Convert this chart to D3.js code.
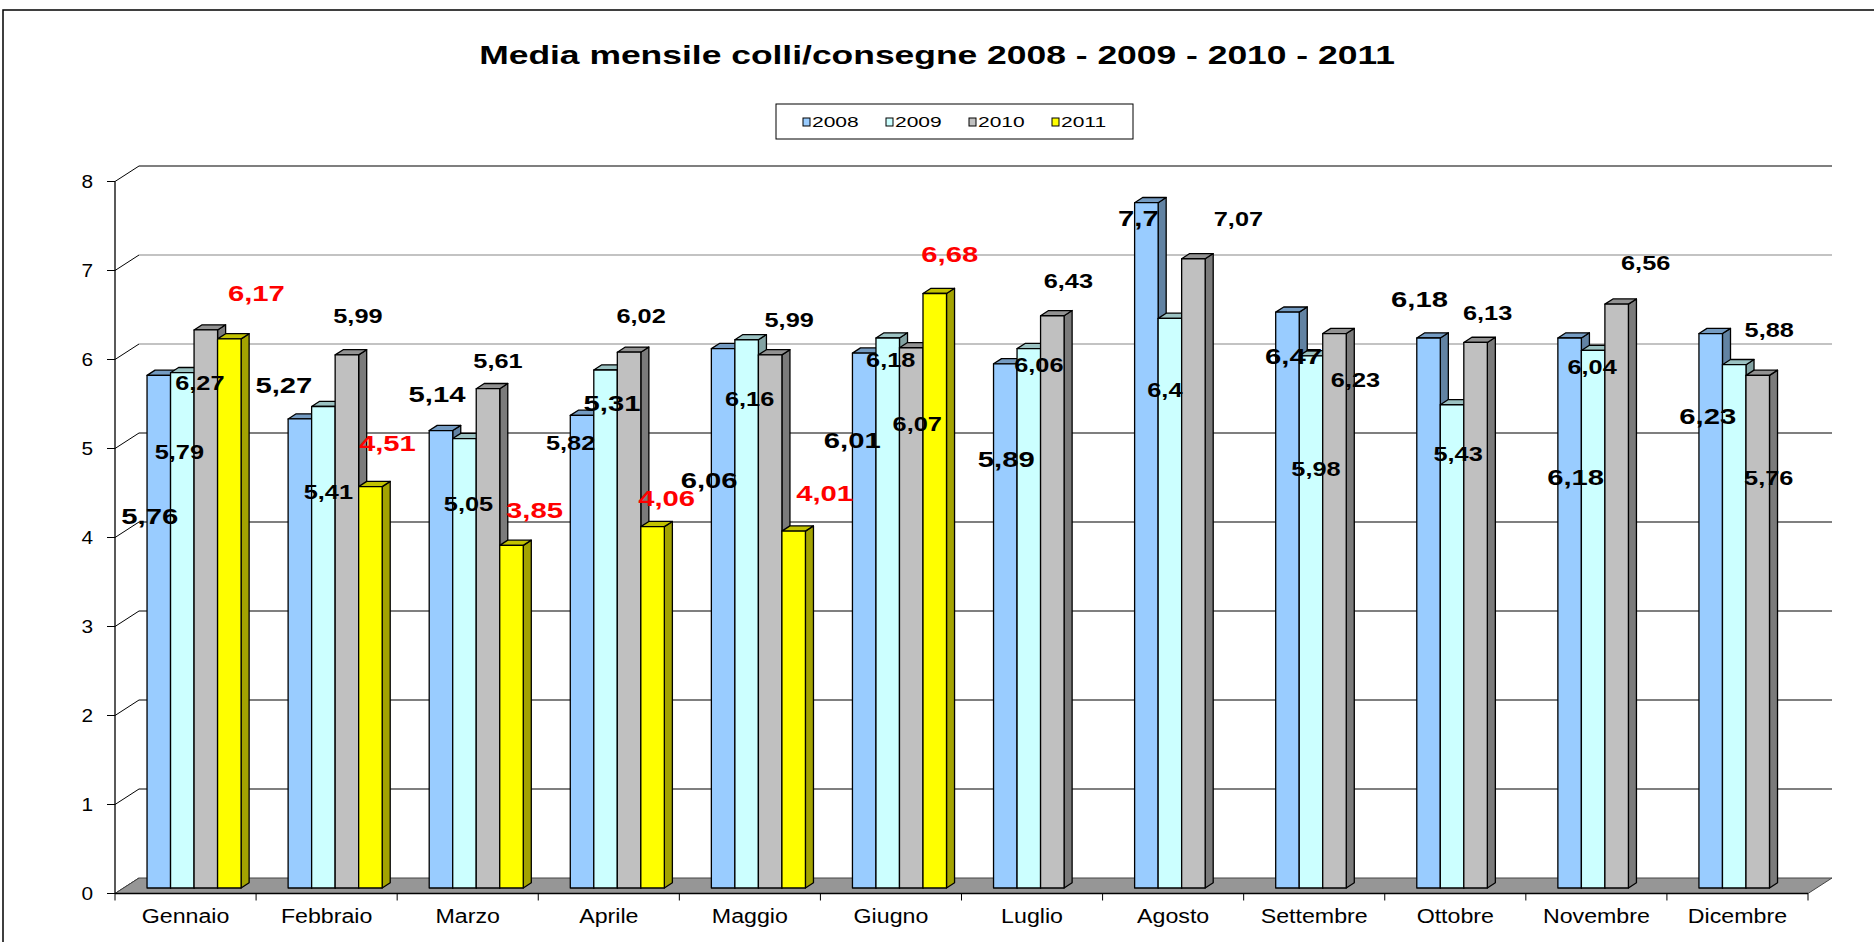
<!DOCTYPE html>
<html>
<head>
<meta charset="utf-8">
<script src="https://cdn.jsdelivr.net/npm/d3@7"></script>
<style>
  body { margin: 0; background: #fff; }
  text { font-family: "Liberation Sans", Arial, sans-serif; }
</style>
</head>
<body>
<script>
// chart data
var months = ["Gennaio", "Febbraio", "Marzo", "Aprile", "Maggio", "Giugno",
              "Luglio", "Agosto", "Settembre", "Ottobre", "Novembre", "Dicembre"];
var years = ["2008", "2009", "2010", "2011"];
var v2008 = [5.76, 5.27, 5.14, 5.31, 6.06, 6.01, 5.89, 7.7, 6.47, 6.18, 6.18, 6.23];
var v2009 = [5.79, 5.41, 5.05, 5.82, 6.16, 6.18, 6.06, 6.4, 5.98, 5.43, 6.04, 5.88];
var v2010 = [6.27, 5.99, 5.61, 6.02, 5.99, 6.07, 6.43, 7.07, 6.23, 6.13, 6.56, 5.76];
var v2011 = [6.17, 4.51, 3.85, 4.06, 4.01, 6.68, null, null, null, null, null, null];
var yTicks = [0, 1, 2, 3, 4, 5, 6, 7, 8];

// where each data label sits, relative to the top of its bar (px)
var nudge2008 = [[-9, 141], [-16, -34], [-4, -37], [30, -13], [-14, 131], [-12, 87],
                 [1, 95], [-8, 15], [6, 44], [-9, -39], [6, 139], [-3, 82]];
var nudge2009 = [[-3, 79], [5, 85], [4, 65], [-35, 73], [3, 59], [3, 22],
                 [10, 16], [-5, 72], [5, 113], [6, 49], [-1, 17], [35, -35]];
var nudge2010 = [[-6, 53], [11, -39], [10, -28], [12, -36], [19, -35], [6, 76],
                 [16, -35], [45, -40], [21, 46], [12, -29], [29, -41], [11, 103]];
var nudge2011 = [[27, -46], [17, -44], [23, -35], [14, -29], [31, -38], [15, -40]];

var series = [v2008, v2009, v2010, v2011];
var nudges = [nudge2008, nudge2009, nudge2010, nudge2011];
var fills = ["#99CCFF", "#CCFFFF", "#C0C0C0", "#FFFF00"];
var labelColor = ["#000", "#000", "#000", "#FF0000"];
var labelSize = [22.5, 19.5, 19.5, 22.5];

var W = 1874, H = 942;
var DX = 24, DY = 15.5;          // depth of the 3d box
var F1 = 0.355, F2 = 0.69;       // bar front / back inside the depth

var svg = d3.select("body").append("svg")
    .attr("width", W)
    .attr("height", H);

var x = d3.scaleBand().domain(months).range([115, 1808]);
var xs = d3.scaleBand().domain(years)
    .range([x.bandwidth() / 6, x.bandwidth() * 5 / 6]);
var y = d3.scaleLinear().domain([0, 8]).range([893.5, 181.5]);

function shade(c, k) {
  var r = d3.rgb(c);
  return d3.rgb(r.r * k, r.g * k, r.b * k).formatHex();
}
function stretched(sel, px, py, sx) {
  return sel.attr("transform", "translate(" + px + "," + py + ") scale(" + sx + ",1)");
}

// outer frame
svg.append("rect")
    .attr("x", 3).attr("y", 10)
    .attr("width", W + 20).attr("height", H + 20)
    .attr("fill", "none").attr("stroke", "#000").attr("stroke-width", 1.5);

// title
stretched(svg.append("text"), W / 2, 64, 1.39)
    .attr("text-anchor", "middle")
    .attr("font-size", 25.5)
    .attr("font-weight", "bold")
    .text("Media mensile colli/consegne 2008 - 2009 - 2010 - 2011");

// legend
var lg = svg.append("g");
lg.append("rect")
    .attr("x", 776).attr("y", 104).attr("width", 357).attr("height", 35)
    .attr("fill", "#fff").attr("stroke", "#000").attr("stroke-width", 1);
years.forEach(function (yr, i) {
  var lx = 803 + i * 83;
  lg.append("rect")
      .attr("x", lx).attr("y", 118).attr("width", 7).attr("height", 8)
      .attr("fill", fills[i]).attr("stroke", "#000").attr("stroke-width", 1);
  stretched(lg.append("text"), lx + 9, 127, 1.45)
      .attr("font-size", 14.5)
      .text(yr);
});

// side wall gridlines + ticks, back wall gridlines
yTicks.forEach(function (t) {
  var col = (t === 6 || t === 7) ? "#888" : "#000";
  svg.append("line")
      .attr("x1", 107).attr("y1", y(t)).attr("x2", 115).attr("y2", y(t))
      .attr("stroke", "#000");
  svg.append("line")
      .attr("x1", 115).attr("y1", y(t)).attr("x2", 115 + DX).attr("y2", y(t) - DY)
      .attr("stroke", "#000");
  if (t > 0) {
    svg.append("line")
        .attr("x1", 115 + DX).attr("y1", y(t) - DY)
        .attr("x2", 1808 + DX).attr("y2", y(t) - DY)
        .attr("stroke", col).attr("stroke-width", 1.2);
  }
  stretched(svg.append("text"), 93, y(t) + 6.3, 1.19)
      .attr("text-anchor", "end")
      .attr("font-size", 17.5)
      .text(t);
});

// value axis
svg.append("line")
    .attr("x1", 115).attr("y1", y(0)).attr("x2", 115).attr("y2", y(8))
    .attr("stroke", "#000").attr("stroke-width", 1.3);

// floor
var fl = [[115, y(0)], [115 + DX, y(0) - DY], [1808 + DX, y(0) - DY], [1808, y(0)]];
svg.append("path")
    .attr("d", d3.line()(fl) + "Z")
    .attr("fill", "#969696").attr("stroke", "#444").attr("stroke-width", 1);

// category axis
svg.append("line")
    .attr("x1", 115).attr("y1", y(0)).attr("x2", 1808).attr("y2", y(0))
    .attr("stroke", "#000").attr("stroke-width", 1.5);
months.forEach(function (m) {
  svg.append("line")
      .attr("x1", x(m)).attr("y1", y(0)).attr("x2", x(m)).attr("y2", y(0) + 7)
      .attr("stroke", "#000");
  stretched(svg.append("text"), x(m) + x.bandwidth() / 2, 922.5, 1.16)
      .attr("text-anchor", "middle")
      .attr("font-size", 20)
      .text(m);
});
svg.append("line")
    .attr("x1", 1808).attr("y1", y(0)).attr("x2", 1808).attr("y2", y(0) + 7)
    .attr("stroke", "#000");

// bars
var bars = [];
months.forEach(function (m, c) {
  series.forEach(function (vals, s) {
    if (vals[c] == null) return;
    bars.push({ c: c, s: s, v: vals[c],
                x0: x(m) + xs(years[s]) + F1 * DX,
                x1: x(m) + xs(years[s]) + xs.bandwidth() + F1 * DX,
                yt: y(vals[c]) - F1 * DY,
                yb: y(0) - F1 * DY });
  });
});
var ddx = (F2 - F1) * DX, ddy = (F2 - F1) * DY;

var bg = svg.selectAll("g.bar").data(bars).enter().append("g").attr("class", "bar")
    .attr("stroke", "#000").attr("stroke-width", 1.3).attr("stroke-linejoin", "round");
bg.append("path")
    .attr("fill", function (d) { return shade(fills[d.s], 0.64); })
    .attr("d", function (d) {
      return d3.line()([[d.x1, d.yt], [d.x1 + ddx, d.yt - ddy], [d.x1 + ddx, d.yb - ddy], [d.x1, d.yb]]) + "Z";
    });
bg.append("path")
    .attr("fill", function (d) { return shade(fills[d.s], 0.76); })
    .attr("d", function (d) {
      return d3.line()([[d.x0, d.yt], [d.x0 + ddx, d.yt - ddy], [d.x1 + ddx, d.yt - ddy], [d.x1, d.yt]]) + "Z";
    });
bg.append("rect")
    .attr("x", function (d) { return d.x0; })
    .attr("y", function (d) { return d.yt; })
    .attr("width", function (d) { return d.x1 - d.x0; })
    .attr("height", function (d) { return d.yb - d.yt; })
    .attr("fill", function (d) { return fills[d.s]; });

// data labels
bars.forEach(function (d) {
  var n = nudges[d.s][d.c];
  var fs = labelSize[d.s];
  var cx = (d.x0 + d.x1) / 2 + n[0];
  var cy = d.yt + n[1] + fs * 0.36;
  stretched(svg.append("text"), cx, cy, 1.3)
      .attr("text-anchor", "middle")
      .attr("font-size", fs)
      .attr("font-weight", "bold")
      .attr("fill", labelColor[d.s])
      .text(String(d.v).replace(".", ","));
});
</script>
</body>
</html>
